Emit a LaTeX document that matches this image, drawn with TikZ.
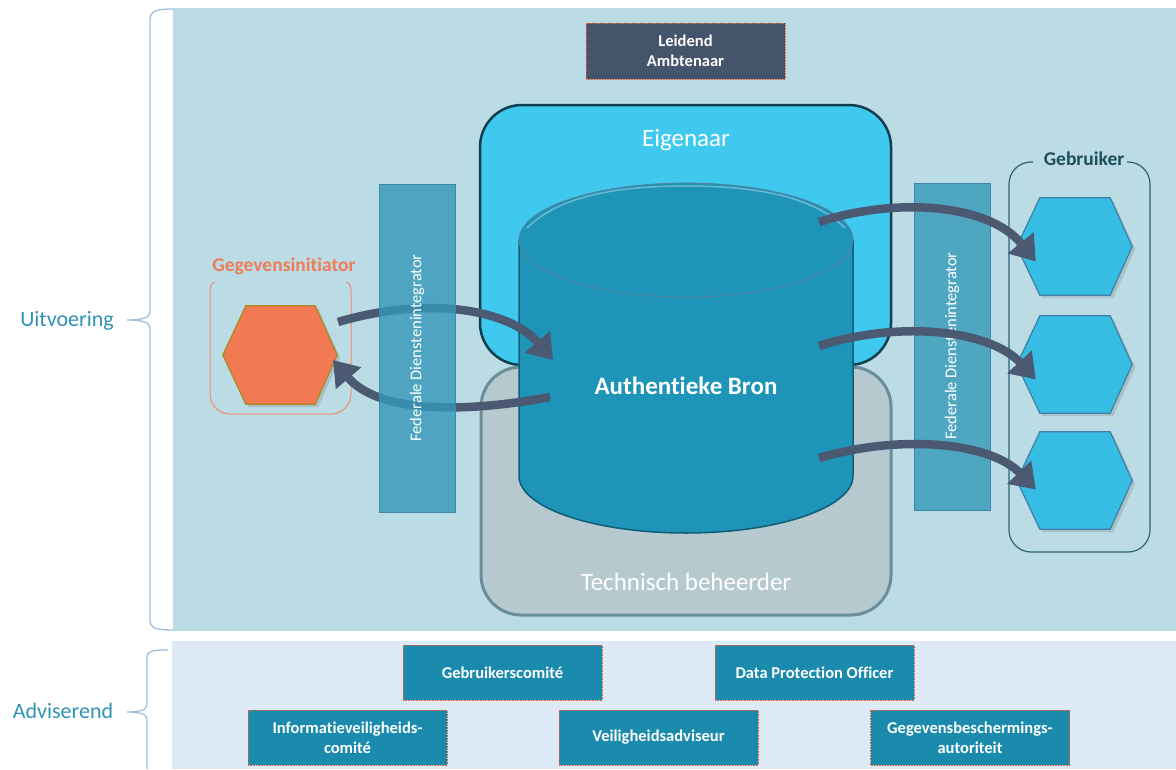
\documentclass[tikz,border=0pt]{standalone}
\usepackage{fontspec}
\setmainfont[Ligatures=NoCommon]{Carlito}
\usetikzlibrary{arrows.meta,calc,shadows}
\definecolor{panelA}{HTML}{BBDCE5}
\definecolor{panelB}{HTML}{DDE9F4}
\definecolor{labelc}{HTML}{2F93B5}
\definecolor{bracec}{HTML}{9DBFE0}
\definecolor{leidc}{HTML}{44546A}
\definecolor{eigc}{HTML}{3FC9EF}
\definecolor{eigb}{HTML}{0F3E4E}
\definecolor{techc}{HTML}{B6C9CF}
\definecolor{techb}{HTML}{6A8E99}
\definecolor{cylc}{HTML}{1D94B8}
\definecolor{cylb}{HTML}{0E5C75}
\definecolor{cyltop}{HTML}{5A7FA0}
\definecolor{barc}{HTML}{3498B8}
\definecolor{barr}{HTML}{4FA6C1}
\definecolor{barb}{HTML}{3F87A8}
\definecolor{arrc}{HTML}{4B5A72}
\definecolor{hexb}{HTML}{36BDE3}
\definecolor{hexbb}{HTML}{3F7FA5}
\definecolor{hexo}{HTML}{F27A52}
\definecolor{hexob}{HTML}{A88A1E}
\definecolor{orangetxt}{HTML}{F07D5A}
\definecolor{orangebr}{HTML}{F08A6A}
\definecolor{gebrtxt}{HTML}{1E4D5C}
\definecolor{gebrbr}{HTML}{2F6272}
\definecolor{advc}{HTML}{1A8BAD}
\definecolor{advb}{HTML}{E0603A}
\newcommand{\hexpath}[1]{(#1.west) -- ($(#1.north west)+(23,0)$) -- ($(#1.north east)+(-22,0)$) -- (#1.east) -- ($(#1.south east)+(-22,0)$) -- ($(#1.south west)+(23,0)$) -- cycle}
\begin{document}
\begin{tikzpicture}[x=1pt,y=-1pt,
  brace/.style={draw=bracec, line width=1.3pt},
  sidelabel/.style={text=labelc, font=\fontsize{22}{26}\selectfont},
  advbox/.style={fill=advc, draw=advb, densely dotted, line width=0.6pt, minimum width=199pt, minimum height=55pt, text=white, align=center, font=\bfseries\fontsize{16.5}{20}\selectfont, inner sep=0pt},
  flow/.style={draw=arrc, line width=8.5pt, -{Triangle[length=24pt,width=32pt]}},
  hexbox/.style={minimum width=115pt, minimum height=97pt, inner sep=0pt},
  bigtxt/.style={text=white, font=\fontsize{25}{29}\selectfont},
  bartxt/.style={text=white, font=\fontsize{16.5}{20}\selectfont, rotate=90}
]
\useasboundingbox (0,0) rectangle (1176,769);
\fill[white] (0,0) rectangle (1176,769);
% panels
\fill[panelA] (173,8) rectangle (1176,631);
\fill[panelB] (172,641) rectangle (1176,769);
% braces
\draw[brace] (173,9) .. controls (156,9) and (150,11) .. (150,20) -- (150,312) .. controls (150,318) and (141,320) .. (127,320) .. controls (141,320) and (150,322) .. (150,328) -- (150,620) .. controls (150,628) and (156,630) .. (173,630);
\draw[brace] (168,650) .. controls (151,650) and (147,651) .. (147,658) -- (147,705) .. controls (147,710) and (139,712) .. (127,712) .. controls (139,712) and (147,714) .. (147,719) -- (147,769);
\node[sidelabel] (uitv) at (67,321) {Uitvoering};
\node[sidelabel] (advis) at (63,711) {Adviserend};
% Leidend Ambtenaar
\node[fill=leidc, draw=advb, densely dotted, line width=0.6pt, minimum width=199pt, minimum height=56pt, text=white, align=center, font=\bfseries\fontsize{16.5}{20}\selectfont, inner sep=0pt] (leid) at (685.5,51) {Leidend\\Ambtenaar};
% Eigenaar
\draw[fill=eigc, draw=eigb, line width=2.5pt, rounded corners=42pt] (480,105) rectangle (891,365);
\node[bigtxt] (eig) at (686,140) {Eigenaar};
% Technisch beheerder
\draw[fill=techc, draw=techb, line width=3pt, rounded corners=40pt] (481,367) rectangle (891,615);
\node[bigtxt] (tech) at (686,582) {Technisch beheerder};
% cylinder
\fill[cylc] (519,240) -- (519,476) .. controls (519,507.5) and (593.8,533) .. (686,533) .. controls (778.2,533) and (853,507.5) .. (853,476) -- (853,240) -- cycle;
\draw[cylb, line width=1.5pt] (519,240) -- (519,476) .. controls (519,507.5) and (593.8,533) .. (686,533) .. controls (778.2,533) and (853,507.5) .. (853,476) -- (853,240);
\draw[fill=cylc, draw=cyltop, line width=0.8pt] (686,240) ellipse [x radius=167, y radius=57];
\draw[white, opacity=0.35, line width=1.5pt] (527,228) .. controls (560,195) and (620,186) .. (686,186) .. controls (752,186) and (812,195) .. (845,228);
\node[text=white, font=\bfseries\fontsize{25}{29}\selectfont] (bron) at (686,386) {Authentieke Bron};
% Gegevensinitiator
\node[text=orangetxt, font=\bfseries\fontsize{19.5}{23}\selectfont] (gilab) at (284,266) {Gegevensinitiator};
\draw[orangebr, line width=1pt] (215,282) .. controls (211,283) and (210,286) .. (210,292) -- (210,394) .. controls (210,405) and (219,414) .. (230,414) -- (331,414) .. controls (342,414) and (351,405) .. (351,394) -- (351,292) .. controls (351,286) and (350,283) .. (346,282);
\node[hexbox, minimum width=114pt, minimum height=98pt] (gi) at (280,355) {};
\filldraw[fill=hexo, draw=hexob, line width=1.2pt, drop shadow={opacity=0.3, shadow xshift=3pt, shadow yshift=-3pt}] \hexpath{gi};
% left arrows
\coordinate (a1s) at (338,322);
\coordinate (a1e) at (553,360);
\coordinate (a2s) at (550,397);
\coordinate (a2e) at (333,360);
\draw[flow] (a1s) .. controls (430,295) and (510,310) .. (a1e);
\draw[flow] (a2s) .. controls (470,412) and (380,415) .. (a2e);
% left bar
\draw[fill=barc, fill opacity=0.8, draw=barb, line width=0.8pt] (379,184) rectangle (455,512);
\node[bartxt] (fdi1) at (417,348) {Federale Dienstenintegrator};
% right bar
\draw[fill=barr, draw=barb, line width=0.8pt] (914,183) rectangle (990,510);
\node[bartxt] (fdi2) at (952,346) {Federale Dienstenintegrator};
% Gebruiker
\node[text=gebrtxt, font=\bfseries\fontsize{19.5}{23}\selectfont] (gblab) at (1084,159) {Gebruiker};
\draw[gebrbr, line width=1.2pt, rounded corners=22pt] (1033,162) -- (1009,162) -- (1009,552) -- (1150,552) -- (1150,162) -- (1127,162);
\node[hexbox] (g1) at (1074.5,246.5) {};
\node[hexbox] (g2) at (1074.5,364.5) {};
\node[hexbox] (g3) at (1074.5,480.5) {};
\foreach \h in {g1,g2,g3}{
  \filldraw[fill=hexb, draw=hexbb, line width=1.2pt, drop shadow={opacity=0.3, shadow xshift=3pt, shadow yshift=-3pt}] \hexpath{\h};
}
% right arrows
\coordinate (a3s) at (819,222);
\coordinate (a4s) at (819,346);
\coordinate (a5s) at (819,458);
\draw[flow] (a3s) .. controls (900,196) and (990,205) .. ($(g1.west)+(19,15)$);
\draw[flow] (a4s) .. controls (900,320) and (990,330) .. ($(g2.west)+(19,15)$);
\draw[flow] (a5s) .. controls (900,434) and (990,442) .. ($(g3.west)+(19,9)$);
% advisory boxes
\node[advbox] (gc) at (502.5,672.5) {Gebruikerscomité};
\node[advbox] (dpo) at (814.5,672.5) {Data Protection Officer};
\node[advbox] (ivc) at (347.5,737.5) {Informatieveiligheids-\\comité};
\node[advbox] (va) at (658.5,737.5) {Veiligheidsadviseur};
\node[advbox] (gba) at (970,737.5) {Gegevensbeschermings-\\autoriteit};
\end{tikzpicture}
\end{document}
